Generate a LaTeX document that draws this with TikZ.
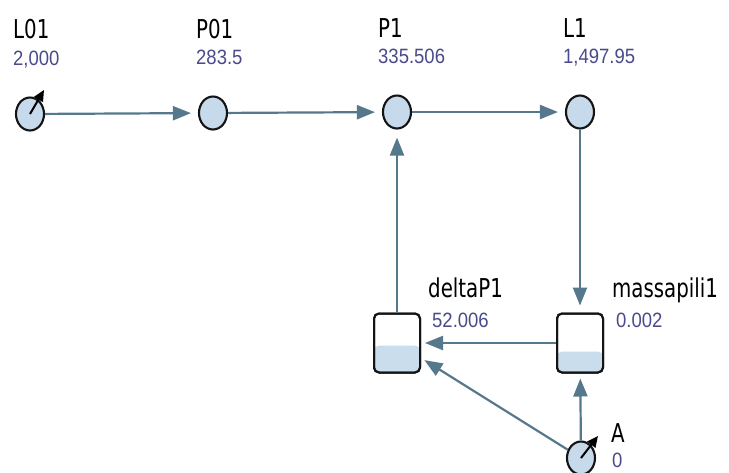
\documentclass[tikz,border=0pt]{standalone}
\usepackage{fontspec}
\usetikzlibrary{arrows.meta,shapes.geometric}
\newfontfamily\namefont{DejaVu Sans Condensed}
\newfontfamily\valfont{Liberation Sans}
\definecolor{arrowc}{HTML}{56788C}
\definecolor{nodefill}{HTML}{C6DAEB}
\definecolor{waterc}{HTML}{C9DDEC}
\definecolor{valc}{HTML}{4A4A8C}
\definecolor{edgec}{HTML}{141414}
\newcommand{\nm}[1]{\scalebox{1}[1.18]{\namefont\fontsize{22}{22}\selectfont #1}}
\newcommand{\vl}[1]{\scalebox{1}[1.12]{\valfont\fontsize{18.5}{18.5}\selectfont\color{valc} #1}}
\begin{document}
\begin{tikzpicture}[x=1pt,y=-1pt,
  stock/.style={ellipse,draw=edgec,line width=2.1pt,fill=nodefill,minimum width=28pt,minimum height=33pt,inner sep=0pt},
  tank/.style={rectangle,rounded corners=5pt,draw=edgec,line width=2pt,fill=white,minimum width=46pt,minimum height=59pt,inner sep=0pt},
  flow/.style={draw=arrowc,line width=2.2pt,-{Triangle[length=18pt,width=14pt]}},
  needle/.style={draw=black,line width=2pt,-{Triangle[length=11pt,width=10pt]}},
  lbl/.style={anchor=base west,inner sep=0pt,text=black}
]
\useasboundingbox (0,0) rectangle (729,472);
\fill[white] (0,0) rectangle (729,472);

% stocks
\node[stock] (L01) at (30,114) {};
\node[stock] (P01) at (213,113) {};
\node[stock] (P1) at (397,112) {};
\node[stock] (L1) at (580,112) {};
\node[stock] (A) at (581,458) {};

% tanks
\node[tank,path picture={\fill[waterc] (path picture bounding box.south west) rectangle ([yshift=27pt]path picture bounding box.south east);}] (dP) at (397,343) {};
\node[tank,path picture={\fill[waterc] (path picture bounding box.south west) rectangle ([yshift=21pt]path picture bounding box.south east);}] (MP) at (580,343) {};
\node[tank,fill=none] at (dP) {};
\node[tank,fill=none] at (MP) {};

% needles
\coordinate (nL) at (44,90);
\coordinate (nA) at (598,436);
\draw[needle] (L01.center) -- (nL);
\draw[needle] (A.center) -- (nA);

% connectors
\draw[flow,shorten >=7pt] (L01) -- (P01);
\draw[flow,shorten >=7pt] (P01) -- (P1);
\draw[flow,shorten >=7pt] (P1) -- (L1);
\draw[flow,shorten >=7pt] (L1) -- (MP);
\draw[flow,shorten >=8pt] (dP) -- (P1);
\draw[flow,shorten >=4pt] (MP) -- (dP);
\draw[flow,shorten >=5pt] (A) -- (MP);
\draw[flow,shorten >=4pt] (A) -- (dP);

% labels
\node[lbl] (tL01) at (13,38) {\nm{L01}};
\node[lbl] (vL01) at (13,65) {\vl{2,000}};
\node[lbl] (tP01) at (196,38) {\nm{P01}};
\node[lbl] (vP01) at (196,64) {\vl{283.5}};
\node[lbl] (tP1) at (378,37) {\nm{P1}};
\node[lbl] (vP1) at (378,63) {\vl{335.506}};
\node[lbl] (tL1) at (563,37) {\nm{L1}};
\node[lbl] (vL1) at (563,63) {\vl{1,497.95}};
\node[lbl] (tdP) at (428,297) {\nm{deltaP1}};
\node[lbl] (vdP) at (432,327) {\vl{52.006}};
\node[lbl] (tMP) at (612,297) {\nm{massapili1}};
\node[lbl] (vMP) at (616,327) {\vl{0.002}};
\node[lbl] (tA) at (611,442) {\nm{A}};
\node[lbl] (vA) at (612,467) {\vl{0}};
\end{tikzpicture}
\end{document}
